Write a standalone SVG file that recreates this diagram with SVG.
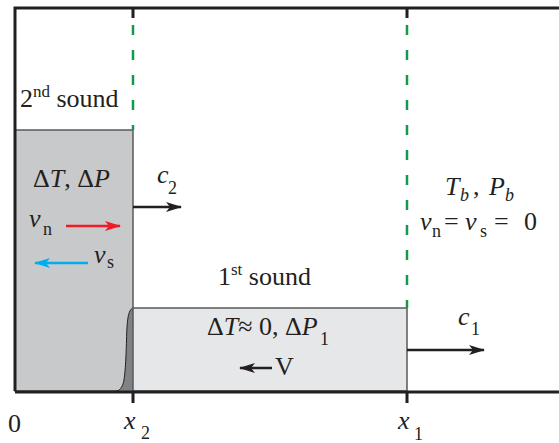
<svg xmlns="http://www.w3.org/2000/svg" width="559" height="443" viewBox="0 0 559 443">
<style>
text{font-family:'Liberation Serif','Times New Roman',Times,Tinos,'Noto Serif','DejaVu Serif',FreeSerif,'Nimbus Roman',serif;fill:#231f20}
.t{font-size:26px}
.i{font-style:italic}
.sub{font-size:18px}
.wall{stroke:#231f20;stroke-width:3;fill:none}
.dash{stroke:#12994a;stroke-width:2.5;stroke-dasharray:10 15;fill:none}
.arr{stroke:#231f20;stroke-width:2.5;fill:none}
</style>
<defs>
<marker id="hk" viewBox="0 0 16 10" refX="15" refY="5" markerWidth="16" markerHeight="10" markerUnits="userSpaceOnUse" orient="auto"><path d="M0,0 L16,5 L0,10 L4,5 z" fill="#231f20"/></marker>
<marker id="hr" viewBox="0 0 16 10" refX="15" refY="5" markerWidth="16" markerHeight="10" markerUnits="userSpaceOnUse" orient="auto"><path d="M0,0 L16,5 L0,10 L4,5 z" fill="#ee1c25"/></marker>
<marker id="hb" viewBox="0 0 16 10" refX="15" refY="5" markerWidth="16" markerHeight="10" markerUnits="userSpaceOnUse" orient="auto"><path d="M0,0 L16,5 L0,10 L4,5 z" fill="#00aeef"/></marker>
</defs>

<g id="region2">
<rect x="15" y="130" width="118" height="261" fill="#c8c9cb" stroke="#58595b" stroke-width="1.5"/>
<path d="M133,308 C128,310 127,320 126.5,340 C126,360 125,378 123,384 C121,389 119,391 116,391 L133,391 Z" fill="#808285"/>
<path d="M133,308 C128,310 127,320 126.5,340 C126,360 125,378 123,384 C121,389 119,391 116,391" fill="none" stroke="#231f20" stroke-width="1"/>
</g>
<g id="region1">
<rect x="133" y="308" width="274" height="83" fill="#e6e7e8" stroke="#58595b" stroke-width="1.5"/>
</g>

<g id="frame">
<path class="wall" d="M15,391 L15,8 L559,8"/>
<path class="wall" d="M15,392 L559,392"/>
<path class="wall" d="M133,392 L133,403 M407,392 L407,403 M133,8 L133,18 M407,8 L407,18"/>
</g>

<g id="connectors">
<path class="dash" d="M133,25 L133,130"/>
<path class="dash" d="M407,25 L407,308"/>
<path class="arr" d="M133,207 L181,207" marker-end="url(#hk)"/>
<path class="arr" d="M407,350 L484,350" marker-end="url(#hk)"/>
<path d="M66,226 L120,226" stroke="#ee1c25" stroke-width="2.5" marker-end="url(#hr)"/>
<path d="M88,263 L35,263" stroke="#00aeef" stroke-width="2.5" marker-end="url(#hb)"/>
<path class="arr" d="M272,368 L240,368" marker-end="url(#hk)"/>
</g>

<g id="labels">
<text class="t" x="20" y="107">2<tspan font-size="17" dy="-10">nd</tspan><tspan dy="10"> sound</tspan></text>
<text class="t" x="33" y="187">Δ<tspan class="i">T</tspan>, Δ<tspan class="i">P</tspan></text>
<text class="t i" x="157" y="183">c</text><text class="sub" x="168" y="194">2</text>
<text class="t i" x="29" y="227">v</text><text class="sub" x="43" y="235">n</text>
<text class="t i" x="94" y="263">v</text><text class="sub" x="107" y="268">s</text>
<text class="t" x="218" y="285">1<tspan font-size="17" dy="-10">st</tspan><tspan dy="10"> sound</tspan></text>
<text class="t" x="207" y="335">Δ<tspan class="i">T</tspan>≈ 0, Δ<tspan class="i">P</tspan></text><text class="sub" x="320" y="345">1</text>
<text class="t" x="275" y="375" font-size="22">V</text>
<text class="t i" x="458" y="325">c</text><text class="sub" x="471" y="335">1</text>
<text class="t i" x="445" y="195">T</text><text class="sub i" x="460" y="201">b</text>
<text class="t" x="473" y="195">,</text>
<text class="t i" x="489" y="195">P</text><text class="sub i" x="505" y="201">b</text>
<text class="t i" x="420" y="230">v</text><text class="sub" x="432" y="237">n</text>
<text class="t" x="444" y="230">=</text>
<text class="t i" x="465" y="230">v</text><text class="sub" x="480" y="237">s</text>
<text class="t" x="494" y="230">=</text>
<text class="t" x="524" y="230">0</text>
<text class="t" x="8" y="432" font-size="28">0</text>
<text class="t i" x="124" y="429">x</text><text class="sub" x="141" y="439">2</text>
<text class="t i" x="398" y="429">x</text><text class="sub" x="414" y="440">1</text>
</g>
</svg>
